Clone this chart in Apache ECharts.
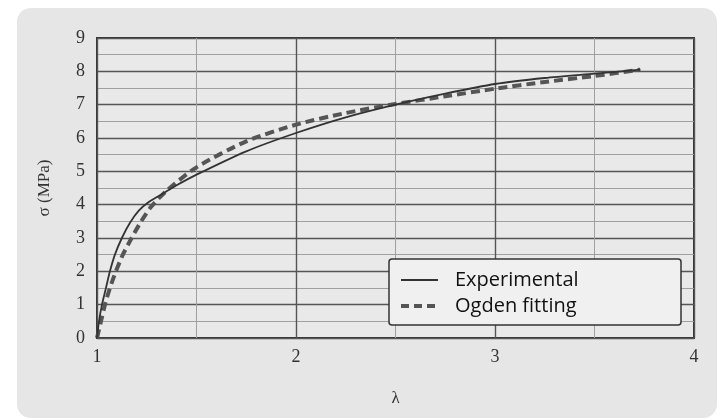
<!DOCTYPE html>
<html>
<head>
<meta charset="utf-8">
<script src="https://cdn.jsdelivr.net/npm/echarts@6/dist/echarts.min.js"></script>
<style>
  html, body { margin: 0; padding: 0; background: #ffffff; }
  #chart { width: 726px; height: 420px; }
</style>
</head>
<body>
<div id="chart"></div>
<script>
// Stretch ratio (lambda) and stress (MPa) for the measured curve
const expLambda = [1.0, 1.01, 1.025, 1.045, 1.065, 1.09, 1.125, 1.165, 1.21, 1.26, 1.33, 1.4, 1.5, 1.75, 2.0, 2.25, 2.5, 2.75, 3.0, 3.25, 3.5, 3.73];
const expStress = [0, 0.5, 1.0, 1.5, 2.0, 2.5, 3.0, 3.45, 3.82, 4.08, 4.33, 4.58, 4.9, 5.6, 6.15, 6.62, 7.0, 7.33, 7.62, 7.8, 7.93, 8.05];

// Ogden hyperelastic model fit
const ogdenLambda = [1.0, 1.02, 1.04, 1.065, 1.095, 1.13, 1.174, 1.22, 1.27, 1.35, 1.5, 1.75, 2.0, 2.25, 2.5, 2.75, 3.0, 3.25, 3.5, 3.73];
const ogdenStress = [0, 0.5, 1.0, 1.5, 2.0, 2.5, 3.0, 3.48, 3.92, 4.42, 5.12, 5.9, 6.4, 6.75, 7.02, 7.25, 7.48, 7.68, 7.86, 8.05];

const seriesNames = ['Experimental', 'Ogden fitting'];
const xTicks = [1, 4, 1];   // min, max, step
const yTicks = [0, 9, 1];

const pairs = (xs, ys) => xs.map((x, i) => [x, ys[i]]);

const chart = echarts.init(document.getElementById('chart'), null, { renderer: 'canvas' });
const serif = '"Liberation Serif", "DejaVu Serif", serif';

const solidStyle = { color: '#333', width: 1.8, type: 'solid' };
const dashStyle = { color: '#555', width: 4, type: [9, 5] };

chart.setOption({
  animation: false,
  backgroundColor: '#ffffff',
  graphic: [
    {
      type: 'rect', z: -10,
      shape: { x: 17, y: 8, width: 700, height: 410, r: 14 },
      style: { fill: '#e6e6e6' }
    },
    {
      // legend frame
      type: 'rect', z: 20,
      shape: { x: 389, y: 259, width: 292, height: 66, r: 3 },
      style: { fill: '#f0f0f0', stroke: '#333', lineWidth: 1.5 }
    }
  ],
  grid: { left: 97, right: 32, top: 38, bottom: 82, show: true, backgroundColor: '#e9e9e9', borderColor: '#333', borderWidth: 2 },
  xAxis: {
    type: 'value', min: xTicks[0], max: xTicks[1], interval: xTicks[2],
    name: 'λ', nameLocation: 'middle', nameGap: 52,
    nameTextStyle: { fontFamily: serif, fontSize: 17, color: '#333' },
    axisLine: { show: false }, axisTick: { show: false },
    axisLabel: { fontFamily: serif, fontSize: 18, color: '#333', margin: 10 },
    splitLine: { show: true, lineStyle: { color: '#555', width: 1.4 } },
    minorTick: { show: false, splitNumber: 2 },
    minorSplitLine: { show: true, lineStyle: { color: '#a0a0a0', width: 1 } }
  },
  yAxis: {
    type: 'value', min: yTicks[0], max: yTicks[1], interval: yTicks[2],
    name: 'σ (MPa)', nameLocation: 'middle', nameGap: 44,
    nameTextStyle: { fontFamily: serif, fontSize: 17, color: '#333' },
    axisLine: { show: false }, axisTick: { show: false },
    axisLabel: { fontFamily: serif, fontSize: 18, color: '#333', margin: 12 },
    splitLine: { show: true, lineStyle: { color: '#555', width: 1.4 } },
    minorTick: { show: false, splitNumber: 2 },
    minorSplitLine: { show: true, lineStyle: { color: '#a0a0a0', width: 1 } }
  },
  legend: {
    orient: 'vertical', left: 394, top: 265, z: 30,
    itemGap: 6, itemWidth: 37, itemHeight: 24,
    itemStyle: { opacity: 0 },
    textStyle: { fontFamily: '"Open Sans", sans-serif', fontSize: 20, color: '#111', padding: [0, 0, 0, 12] },
    data: [
      { name: seriesNames[0], lineStyle: { width: 2 } },
      { name: seriesNames[1], lineStyle: { width: 4, type: [8, 5] } }
    ]
  },
  series: [
    {
      name: seriesNames[0], type: 'line', data: pairs(expLambda, expStress),
      smooth: 0.25, symbol: 'none', z: 3,
      lineStyle: solidStyle, itemStyle: { color: '#333' }
    },
    {
      name: seriesNames[1], type: 'line', data: pairs(ogdenLambda, ogdenStress),
      smooth: 0.25, symbol: 'none', z: 2,
      lineStyle: dashStyle, itemStyle: { color: '#555' }
    }
  ]
});
</script>
</body>
</html>
